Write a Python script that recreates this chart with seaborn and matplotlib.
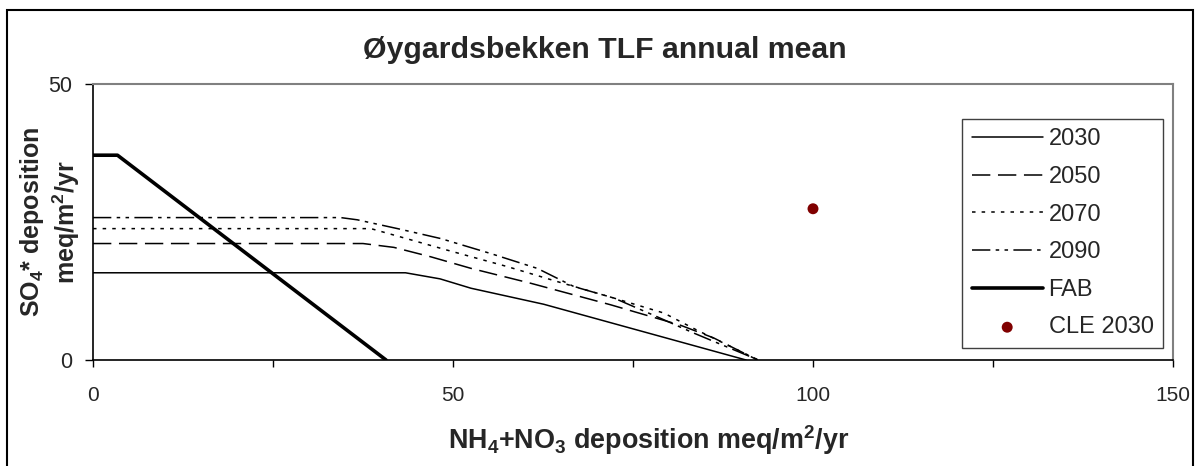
import matplotlib
matplotlib.use('Agg')
import matplotlib.pyplot as plt
import seaborn as sns
from matplotlib.patches import Rectangle
from matplotlib.ticker import MultipleLocator

# --- DATA ---
x_2030 = [0, 43.4, 48.2, 52.5, 62.6, 90.7]
y_2030 = [15.8, 15.8, 14.7, 13.0, 10.1, 0]

x_2050 = [0, 37.5, 41.8, 46.9, 52.5, 60.8, 71.9, 81.6, 86.2, 92.3]
y_2050 = [21.1, 21.1, 20.4, 18.7, 16.6, 13.9, 10.0, 6.3, 4.0, 0]

x_2070 = [0, 38.6, 42.7, 49.2, 57.6, 64.5, 72.4, 79.3, 83.9, 92.4]
y_2070 = [23.8, 23.8, 22.3, 19.9, 16.9, 14.2, 11.2, 8.5, 5.4, 0]

x_2090 = [0, 34.4, 36.7, 42.3, 48.3, 55.2, 61.7, 66.8, 72.4, 78.4, 83.4, 92.4]
y_2090 = [25.8, 25.8, 25.4, 23.8, 22.0, 19.3, 16.6, 13.3, 11.2, 7.8, 4.9, 0]

x_fab = [0, 3.4, 40.7]
y_fab = [37.1, 37.1, 0]

x_cle = [100]
y_cle = [27.4]

# --- STYLE ---
sns.set_style('white')
plt.rcParams['font.family'] = ['Liberation Sans', 'DejaVu Sans']
plt.rcParams['mathtext.fontset'] = 'custom'
plt.rcParams['mathtext.rm'] = 'Liberation Sans'
plt.rcParams['mathtext.bf'] = 'Liberation Sans:bold'

fig = plt.figure(figsize=(12.01, 4.66), dpi=100)
ax = fig.add_axes([93 / 1201, 106 / 466, 1080 / 1201, 276 / 466])

sns.lineplot(x=x_2030, y=y_2030, ax=ax, color='black', lw=1.1, sort=False, label='2030')
sns.lineplot(x=x_2050, y=y_2050, ax=ax, color='black', lw=1.1, sort=False,
             linestyle=(0, (12, 5)), label='2050')
sns.lineplot(x=x_2070, y=y_2070, ax=ax, color='black', lw=1.1, sort=False,
             linestyle=(0, (2.3, 4)), label='2070')
sns.lineplot(x=x_2090, y=y_2090, ax=ax, color='black', lw=1.1, sort=False,
             linestyle=(0, (12, 3.5, 2.3, 3.5, 2.3, 3.5)), label='2090')
sns.lineplot(x=x_fab, y=y_fab, ax=ax, color='black', lw=2.6, sort=False, label='FAB')
sns.scatterplot(x=x_cle, y=y_cle, ax=ax, color='#800000', s=62, edgecolor='none',
                label='CLE 2030')

ax.set_xlim(0, 150)
ax.set_ylim(0, 50)
ax.xaxis.set_major_locator(MultipleLocator(50))
ax.xaxis.set_minor_locator(MultipleLocator(25))
ax.yaxis.set_major_locator(MultipleLocator(50))
ax.tick_params(axis='x', which='both', direction='out', length=5, width=1,
               bottom=True, color='black', labelsize=15, pad=14)
ax.tick_params(axis='y', direction='out', length=6, width=1, left=True,
               color='black', labelsize=15.5, pad=9)
ax.set_xlabel('')
ax.set_ylabel('')

for side in ['left', 'bottom']:
    ax.spines[side].set_color('black')
    ax.spines[side].set_linewidth(1.2)
for side in ['top', 'right']:
    ax.spines[side].set_color('#808080')
    ax.spines[side].set_linewidth(1.5)

leg = ax.legend(loc='upper right', bbox_to_anchor=(0.9907, 0.873), fontsize=17,
                frameon=True, fancybox=False, edgecolor='#404040', framealpha=1,
                labelspacing=0.66, handlelength=3.0, handletextpad=0.25,
                borderpad=0.4, borderaxespad=0)
leg.get_frame().set_linewidth(1.0)

# titles and labels
fig.text(605 / 1201, 1 - 58 / 466, 'Øygardsbekken TLF annual mean',
         ha='center', va='baseline', fontsize=21.8, fontweight='bold')
fig.text(649 / 1201, 1 - 440 / 466,
         r'NH$_\mathbf{4}$+NO$_\mathbf{3}$ deposition meq/m$^\mathbf{2}$/yr',
         ha='center', va='center', fontsize=19.4, fontweight='bold')
fig.text(50 / 1201, 1 - 222 / 466,
         'SO$_\\mathbf{4}$* deposition\nmeq/m$^\\mathbf{2}$/yr',
         ha='center', va='center', rotation=90, fontsize=18, fontweight='bold',
         multialignment='center')

# outer chart frame
fig.add_artist(Rectangle((7 / 1201, -0.02), 1186 / 1201, 1.02 - 10 / 466,
                         transform=fig.transFigure, fill=False, lw=1.5,
                         ec='black'))

fig.savefig('out.png', dpi=100)
